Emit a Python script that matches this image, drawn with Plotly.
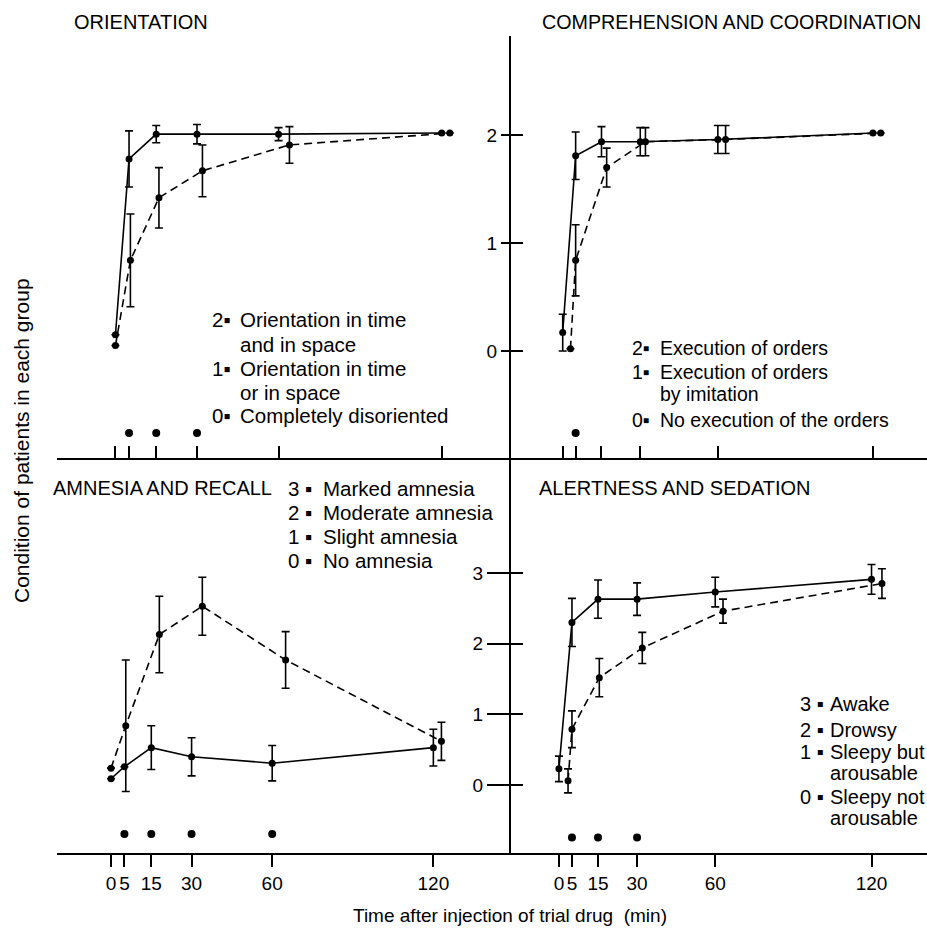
import plotly.graph_objects as go

W, H = 927, 931
FONT = "Liberation Sans, Arial, Helvetica, sans-serif"

# ---------------- data ----------------
TIME_TICKS = [0, 5, 15, 30, 60, 120]
TIME_TICK_TEXT = ["0", "5", "15", "30", "60", "120"]

# Orientation (top-left)
ori_solid_t = [0, 5, 15, 30, 60, 120]
ori_solid_v = [0.15, 1.78, 2.01, 2.01, 2.01, 2.02]
ori_solid_e = [None, 0.26, 0.08, 0.09, 0.06, None]
ori_dash_t = [0, 5.5, 16, 32, 64, 123]
ori_dash_v = [0.05, 0.84, 1.42, 1.67, 1.91, 2.02]
ori_dash_e = [None, 0.43, 0.28, 0.24, 0.17, None]
ori_sig_t = [5, 15, 30]

# Comprehension and coordination (top-right)
com_solid_t = [0, 5, 15, 30, 60, 120]
com_solid_v = [0.17, 1.81, 1.94, 1.94, 1.96, 2.02]
com_solid_e = [0.17, 0.22, 0.14, 0.13, 0.13, None]
com_dash_t = [3, 5, 17, 32, 63, 123]
com_dash_v = [0.02, 0.84, 1.70, 1.94, 1.96, 2.02]
com_dash_e = [None, 0.33, 0.18, 0.13, 0.13, None]
com_sig_t = [5]

# Amnesia and recall (bottom-left)
amn_solid_t = [0, 5, 15, 30, 60, 120]
amn_solid_v = [0.09, 0.26, 0.53, 0.40, 0.31, 0.53]
amn_solid_e = [None, None, 0.31, 0.27, 0.25, 0.26]
amn_dash_t = [0, 5.5, 18, 34, 65, 123]
amn_dash_v = [0.24, 0.84, 2.13, 2.53, 1.77, 0.62]
amn_dash_e = [None, 0.93, 0.54, 0.41, 0.40, 0.27]
amn_sig_t = [5, 15, 30, 60]

# Alertness and sedation (bottom-right)
ale_solid_t = [0, 5, 15, 30, 60, 120]
ale_solid_v = [0.23, 2.30, 2.63, 2.63, 2.73, 2.91]
ale_solid_e = [0.18, 0.34, 0.27, 0.23, 0.21, 0.21]
ale_dash_t = [3.5, 5, 15.5, 32, 63, 124]
ale_dash_v = [0.06, 0.79, 1.52, 1.94, 2.46, 2.85]
ale_dash_e = [0.17, 0.26, 0.27, 0.22, 0.17, 0.21]
ale_sig_t = [5, 15, 30]

TOP_Y_TICKS = [0, 1, 2]
BOTTOM_Y_TICKS = [0, 1, 2, 3]

# scale keys (label, description lines)
ori_keys = [("2", ["Orientation in time", "and in space"]),
            ("1", ["Orientation in time", "or in space"]),
            ("0", ["Completely disoriented"])]
com_keys = [("2", ["Execution of orders"]),
            ("1", ["Execution of orders", "by imitation"]),
            ("0", ["No execution of the orders"])]
amn_keys = [("3", ["Marked amnesia"]),
            ("2", ["Moderate amnesia"]),
            ("1", ["Slight amnesia"]),
            ("0", ["No amnesia"])]
ale_keys = [("3", ["Awake"]),
            ("2", ["Drowsy"]),
            ("1", ["Sleepy but", "arousable"]),
            ("0", ["Sleepy not", "arousable"])]

# ---------------- figure ----------------
fig = go.Figure()


def add_series(t, v, e, dash, xa, ya):
    fig.add_trace(go.Scatter(
        x=t, y=v, mode="lines+markers", xaxis=xa, yaxis=ya,
        line=dict(color="black", width=1.6, dash=dash),
        marker=dict(color="black", size=7),
        error_y=dict(type="data", array=e, visible=True, color="black",
                     thickness=1.6, width=4),
        showlegend=False, hoverinfo="x+y", cliponaxis=False))


def add_sig(t, level, xa, ya):
    fig.add_trace(go.Scatter(
        x=t, y=[level] * len(t), mode="markers", xaxis=xa, yaxis=ya,
        marker=dict(color="black", size=8), showlegend=False,
        cliponaxis=False))


add_series(ori_solid_t, ori_solid_v, ori_solid_e, "solid", "x", "y")
add_series(ori_dash_t, ori_dash_v, ori_dash_e, "8px,5px", "x", "y")
add_sig(ori_sig_t, -0.76, "x", "y")

add_series(com_solid_t, com_solid_v, com_solid_e, "solid", "x2", "y2")
add_series(com_dash_t, com_dash_v, com_dash_e, "8px,5px", "x2", "y2")
add_sig(com_sig_t, -0.76, "x2", "y2")

add_series(amn_solid_t, amn_solid_v, amn_solid_e, "solid", "x3", "y3")
add_series(amn_dash_t, amn_dash_v, amn_dash_e, "8px,5px", "x3", "y3")
add_sig(amn_sig_t, -0.69, "x3", "y3")

add_series(ale_solid_t, ale_solid_v, ale_solid_e, "solid", "x4", "y4")
add_series(ale_dash_t, ale_dash_v, ale_dash_e, "8px,5px", "x4", "y4")
add_sig(ale_sig_t, -0.74, "x4", "y4")

# invisible traces for the overlay axes (ticks crossing the central line)
fig.add_trace(go.Scatter(x=[None], y=[None], xaxis="x2", yaxis="y5", showlegend=False))
fig.add_trace(go.Scatter(x=[None], y=[None], xaxis="x4", yaxis="y6", showlegend=False))

XL = [57 / W, 511 / W]
XR = [511 / W, 1.0]
YT = [1 - 457.7 / H, 1 - 36 / H]
YB = [1 - 853 / H, 1 - 457.7 / H]
TOP_RANGE = [-0.99, 2.92]
BOT_RANGE = [-0.96, 4.63]

tick_font = dict(family=FONT, size=19, color="black")


def xaxis(domain, anchor, rng, top):
    return dict(domain=domain, anchor=anchor, range=rng, tickvals=TIME_TICKS,
                ticktext=TIME_TICK_TEXT, ticks="inside" if top else "outside",
                ticklen=12, tickwidth=2, tickcolor="black",
                showticklabels=not top, tickfont=tick_font,
                showline=True, linewidth=2, linecolor="black",
                showgrid=False, zeroline=False, fixedrange=True)


def yaxis(domain, anchor, rng, ticks, visible, ticklen=8):
    if not visible:
        return dict(domain=domain, anchor=anchor, range=rng, visible=False)
    return dict(domain=domain, anchor=anchor, range=rng, tickvals=ticks,
                ticks="outside", ticklen=ticklen, tickwidth=2, tickcolor="black",
                tickfont=tick_font, showline=True, linewidth=2,
                linecolor="black", showgrid=False, zeroline=False)


def yoverlay(over, anchor, rng, ticks):
    return dict(overlaying=over, anchor=anchor, range=rng, tickvals=ticks,
                ticks="inside", ticklen=12, tickwidth=2, tickcolor="black",
                showticklabels=False, showline=False, showgrid=False,
                zeroline=False)


fig.update_layout(
    width=W, height=H,
    margin=dict(l=0, r=0, t=0, b=0),
    paper_bgcolor="white", plot_bgcolor="white",
    font=dict(family=FONT, size=19, color="black"),
    showlegend=False,
    xaxis=xaxis(XL, "y", [-21.5, 145.5], True),
    yaxis=yaxis(YT, "x", TOP_RANGE, TOP_Y_TICKS, False),
    xaxis2=xaxis(XR, "y2", [-20.0, 140.9], True),
    yaxis2=yaxis(YT, "x2", TOP_RANGE, TOP_Y_TICKS, True, ticklen=8),
    xaxis3=xaxis(XL, "y3", [-20.1, 148.9], False),
    yaxis3=yaxis(YB, "x3", BOT_RANGE, BOTTOM_Y_TICKS, False),
    xaxis4=xaxis(XR, "y4", [-18.4, 141.3], False),
    yaxis4=yaxis(YB, "x4", BOT_RANGE, BOTTOM_Y_TICKS, True, ticklen=22),
    yaxis5=yoverlay("y2", "x2", TOP_RANGE, TOP_Y_TICKS),
    yaxis6=yoverlay("y4", "x4", BOT_RANGE, BOTTOM_Y_TICKS),
)


# ---------------- text ----------------
def label(txt, px, py, size=20.5, anchor="left", angle=0):
    fig.add_annotation(text=txt, x=px / W, y=1 - py / H, xref="paper",
                       yref="paper", xanchor=anchor, yanchor="middle",
                       showarrow=False, textangle=angle,
                       font=dict(family=FONT, size=size, color="black"))


label("ORIENTATION", 72, 22, size=20)
label("COMPREHENSION AND COORDINATION", 540, 22, size=19.7)
label("AMNESIA AND RECALL", 51, 488, size=20)
label("ALERTNESS AND SEDATION", 537, 488, size=20)


def key_block(keys, key_x, text_x, line_ys, size, sep=""):
    i = 0
    for num, lines in keys:
        label(num + sep + "\u25aa", key_x, line_ys[i], size=size)
        for ln in lines:
            label(ln, text_x, line_ys[i], size=size)
            i += 1


key_block(ori_keys, 210, 238, [320, 345, 368, 392, 415], 20.5)
key_block(com_keys, 630, 658, [348, 372, 394, 420], 19.5)
key_block(amn_keys, 286, 321, [488, 512, 536, 560], 20.5, sep=" ")
key_block(ale_keys, 798, 828, [704, 730, 752, 773, 797, 818], 20, sep=" ")

label("Time after injection of trial drug  (min)", 510, 915, size=19,
      anchor="center")
label("Condition of patients in each group", 22, 441, size=21,
      anchor="center", angle=-90)

fig.write_html("out.html", post_script="document.body.style.margin='0';",
               config={"displayModeBar": False})
